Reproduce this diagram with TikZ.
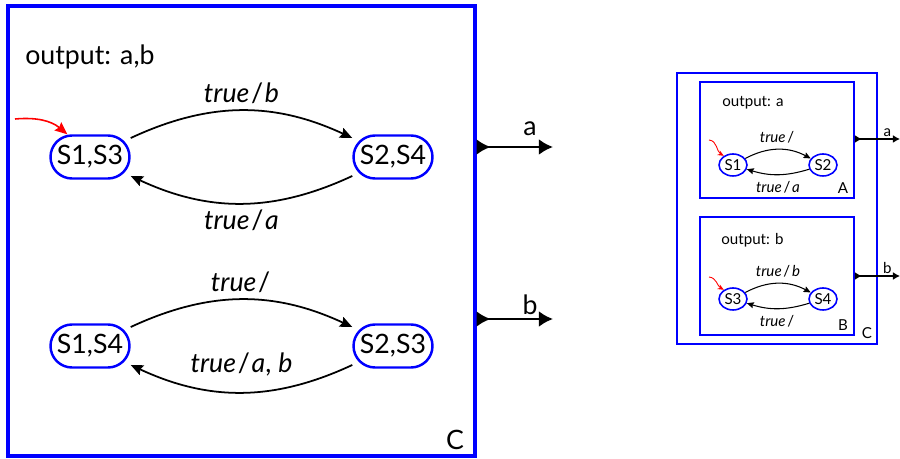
\documentclass[tikz,border=0pt]{standalone}
\usepackage{fontspec}
\setmainfont{Lato}
\usetikzlibrary{shapes.geometric, arrows.meta, positioning, calc}
\definecolor{boxblue}{HTML}{0000FF}
\definecolor{initred}{HTML}{FF0000}

\newcommand{\trans}[2]{\textit{#1}\kern1pt/\kern1pt\textit{#2}}

\begin{document}
\begin{tikzpicture}[
    x=0.02cm, y=0.02cm,
    bigfont/.style={font=\fontsize{15.2}{18}\selectfont},
    smallfont/.style={font=\fontsize{8.6}{10}\selectfont},
    bigstate/.style={rectangle, rounded corners=0.43cm, draw=boxblue, line width=1.4pt, minimum width=1.58cm, minimum height=0.86cm, inner sep=1pt, bigfont},
    smallstate/.style={ellipse, draw=boxblue, line width=0.9pt, minimum width=0.56cm, minimum height=0.44cm, inner sep=0pt, smallfont},
    bigbox/.style={rectangle, draw=boxblue, line width=1.8pt},
    smallbox/.style={rectangle, draw=boxblue, line width=1pt},
    bigedge/.style={-{Stealth[length=7pt, width=6pt, inset=1pt]}, line width=1pt},
    smalledge/.style={-{Stealth[length=4pt, width=3.5pt, inset=0.6pt]}, line width=0.6pt},
    biginit/.style={-{Stealth[length=7pt, width=6pt, inset=1pt]}, line width=0.9pt, draw=initred},
    smallinit/.style={-{Stealth[length=3.5pt, width=3pt]}, line width=0.5pt, draw=initred},
    bigout/.style={{Latex[reversed, length=8pt, width=9pt]}-{Latex[length=8pt, width=9pt]}, line width=1.4pt},
    smallout/.style={{Latex[reversed, length=4pt, width=4.5pt]}-{Latex[length=4pt, width=4.5pt]}, line width=0.8pt}
]
\useasboundingbox (0,0) rectangle (900,-459);

% composed machine
\node[bigbox, minimum width=9.34cm, minimum height=9.0cm] (bigc) at (241.5,-231) {};
\node[bigfont, anchor=west, inner sep=0pt] (outab) at (25,-57) {output: a,b};
\node[bigfont] (clab) at (455,-440) {C};

\node[bigstate] (s13) at (90,-157) {S1,S3};
\node[bigstate] (s24) at (393,-157) {S2,S4};
\node[bigstate] (s14) at (90,-346) {S1,S4};
\node[bigstate] (s23) at (393,-346) {S2,S3};

\coordinate (init13) at (15,-119);
\draw[biginit] (init13) to[out=5, in=140] (s13.135);

\draw[bigedge] (s13) to[bend left=25] node[above, bigfont] {\trans{true}{b}} (s24);
\draw[bigedge] (s24) to[bend left=25] node[below, bigfont] {\trans{true}{a}} (s13);
\draw[bigedge] (s14) to[bend left=25] node[above, bigfont] {\trans{true}{}} (s23);
\draw[bigedge] (s23) to[bend left=25] node[above=0.3cm, bigfont, inner sep=0pt] {\trans{true}{a}, \textit{b}} (s14);

\coordinate (enda) at (553,-147);
\coordinate (endb) at (553,-319);
\draw[bigout] (bigc.east |- enda) -- node[above=0.2cm, pos=0.7, bigfont, inner sep=0pt] {a} (enda);
\draw[bigout] (bigc.east |- endb) -- node[above=0.06cm, pos=0.7, bigfont, inner sep=0pt] {b} (endb);

% parallel composition
\node[smallbox, minimum width=4.0cm, minimum height=5.42cm] (smallc) at (777,-208.5) {};
\node[smallbox, minimum width=3.08cm, minimum height=2.32cm] (boxa) at (777,-140) {};
\node[smallbox, minimum width=3.08cm, minimum height=2.36cm] (boxb) at (777,-276) {};

\node[smallfont, anchor=west, inner sep=0pt] (outa) at (722,-103) {output: a};
\node[smallfont, anchor=west, inner sep=0pt] (outb) at (721,-240) {output: b};
\node[smallfont] (alab) at (843,-188) {A};
\node[smallfont] (blab) at (843,-325) {B};
\node[smallfont] (cslab) at (867,-333) {C};

\node[smallstate] (s1) at (733,-165) {S1};
\node[smallstate] (s2) at (823,-165) {S2};
\node[smallstate] (s3) at (733,-299) {S3};
\node[smallstate] (s4) at (823,-299) {S4};

\coordinate (init1) at (709,-140);
\coordinate (init3) at (709,-277);
\draw[smallinit] (init1) to[out=-5, in=150] (s1.135);
\draw[smallinit] (init3) to[out=-5, in=150] (s3.135);

\draw[smalledge] (s1) to[bend left=28] node[above, smallfont] {\trans{true}{}} (s2);
\draw[smalledge] (s2) to[bend left=17] node[below, smallfont] {\trans{true}{a}} (s1);
\draw[smalledge] (s3) to[bend left=28] node[above, smallfont] {\trans{true}{b}} (s4);
\draw[smalledge] (s4) to[bend left=17] node[below, smallfont] {\trans{true}{}} (s3);

\coordinate (enda2) at (900,-139);
\coordinate (endb2) at (900,-276);
\draw[smallout] (boxa.east |- enda2) -- node[above, pos=0.72, smallfont, inner sep=1pt] {a} (enda2);
\draw[smallout] (boxb.east |- endb2) -- node[above, pos=0.72, smallfont, inner sep=1pt] {b} (endb2);

\end{tikzpicture}
\end{document}
